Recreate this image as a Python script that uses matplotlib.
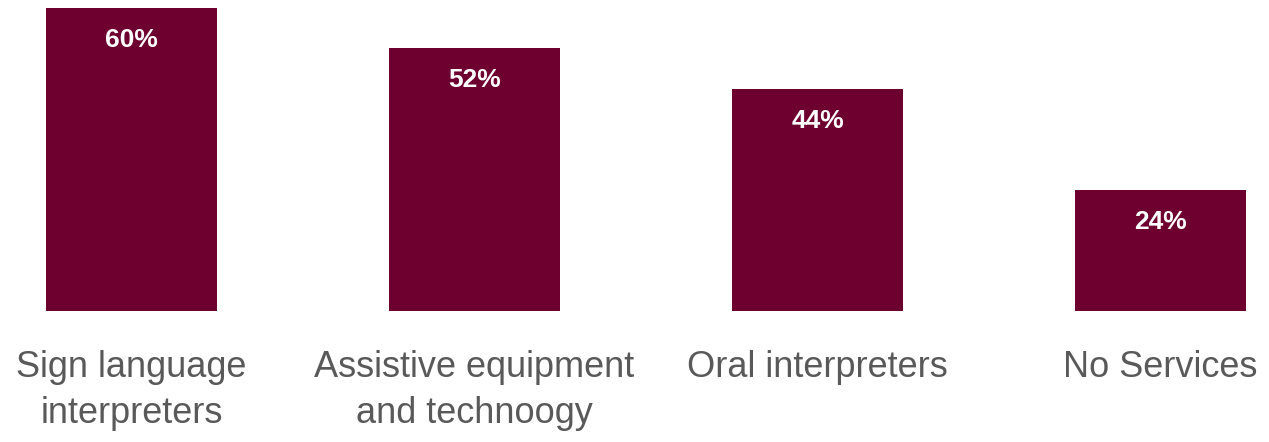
import matplotlib.pyplot as plt
from matplotlib import font_manager
from matplotlib.transforms import blended_transform_factory

categories = ['Sign language\ninterpreters', 'Assistive equipment\nand technoogy',
              'Oral interpreters', 'No Services']
values = [60, 52, 44, 24]

bar_color = '#6E0030'
text_color = '#595959'

names = {f.name for f in font_manager.fontManager.ttflist}
family = 'Liberation Sans Narrow' if 'Liberation Sans Narrow' in names else 'Liberation Sans'
plt.rcParams['font.family'] = [family, 'DejaVu Sans']

fig = plt.figure(figsize=(12.69, 4.42), dpi=100)
ax = fig.add_axes([0, 0.2964, 1, 0.7036])

x = range(len(values))
ax.bar(x, values, width=0.5, color=bar_color)
ax.set_xlim(-0.383, 3.316)
ax.set_ylim(0, 61.6)
ax.axis('off')

for i, v in enumerate(values):
    ax.annotate(f'{v}%', (i, v), xytext=(0, -23), textcoords='offset points',
                ha='center', va='center', color='white', fontsize=19, fontweight='bold')

# category labels under the bars
trans = blended_transform_factory(ax.transData, ax.transAxes)
for i, lab in enumerate(categories):
    ax.text(i, -39 / 311, lab, transform=trans, ha='center', va='top', fontsize=26,
            color=text_color, linespacing=1.4)

fig.savefig('out.png', dpi=100)
